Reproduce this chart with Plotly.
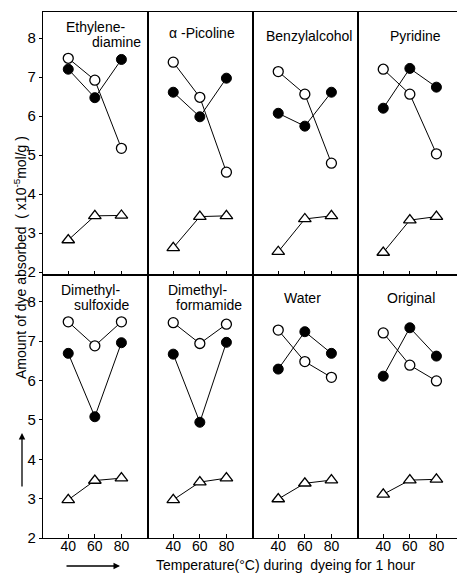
import plotly.graph_objects as go
from plotly.subplots import make_subplots

# ---------------- data ----------------
temps = [40, 60, 80]
titles = [
    ["Ethylene-", "diamine"],
    ["\u03b1 -Picoline"],
    ["Benzylalcohol"],
    ["Pyridine"],
    ["Dimethyl-", "sulfoxide"],
    ["Dimethyl-", "formamide"],
    ["Water"],
    ["Original"],
]
open_vals = [
    [7.48, 6.92, 5.17],
    [7.38, 6.48, 4.56],
    [7.14, 6.56, 4.79],
    [7.20, 6.56, 5.03],
    [7.49, 6.88, 7.49],
    [7.47, 6.94, 7.43],
    [7.28, 6.48, 6.08],
    [7.21, 6.39, 5.99],
]
filled_vals = [
    [7.20, 6.47, 7.45],
    [6.61, 5.98, 6.97],
    [6.07, 5.74, 6.61],
    [6.20, 7.22, 6.74],
    [6.69, 5.08, 6.96],
    [6.67, 4.94, 6.97],
    [6.29, 7.24, 6.69],
    [6.11, 7.34, 6.62],
]
tri_vals = [
    [2.82, 3.44, 3.45],
    [2.62, 3.42, 3.44],
    [2.52, 3.36, 3.44],
    [2.50, 3.33, 3.42],
    [2.97, 3.46, 3.52],
    [2.97, 3.42, 3.52],
    [2.99, 3.39, 3.47],
    [3.11, 3.47, 3.49],
]
y_ticks = [2, 3, 4, 5, 6, 7, 8]
x_ticks = [40, 60, 80]

# ---------------- layout helpers ----------------
# the page body has an 8px default margin, so the figure is made smaller
OFF = 8
PAGE_W, PAGE_H = 465, 576
PL, PT, PR, PB = 43, 12, 463, 538          # plot area in page pixels
W, H = PAGE_W - OFF, PAGE_H - OFF
ML, MT = PL - OFF, PT - OFF
MR, MB = W - (PR - OFF), H - (PB - OFF)
PW, PH = PR - PL, PB - PT


def px(x):
    return (x - PL) / PW


def py(y):
    return (PB - y) / PH


FONT = "Liberation Sans"

fig = make_subplots(rows=2, cols=4, horizontal_spacing=0, vertical_spacing=0)

for i in range(8):
    r, c = i // 4 + 1, i % 4 + 1
    fig.add_trace(go.Scatter(
        x=temps, y=tri_vals[i], mode="lines+markers",
        line=dict(color="black", width=1),
        marker=dict(symbol="triangle-up", size=11, color="white",
                    line=dict(color="black", width=1.3)),
        showlegend=False, hoverinfo="skip"), row=r, col=c)
    fig.add_trace(go.Scatter(
        x=temps, y=open_vals[i], mode="lines+markers",
        line=dict(color="black", width=1),
        marker=dict(symbol="circle", size=10, color="white",
                    line=dict(color="black", width=1.3)),
        showlegend=False, hoverinfo="skip"), row=r, col=c)
    fig.add_trace(go.Scatter(
        x=temps, y=filled_vals[i], mode="lines+markers",
        line=dict(color="black", width=1),
        marker=dict(symbol="circle", size=10, color="black",
                    line=dict(color="black", width=1)),
        showlegend=False, hoverinfo="skip"), row=r, col=c)

    fig.update_xaxes(
        range=[21, 100], tickvals=x_ticks, ticks="inside", ticklen=4,
        tickcolor="black", showticklabels=(r == 2), showline=True,
        mirror=True, linecolor="black", linewidth=1.2, showgrid=False,
        zeroline=False, ticklabelstandoff=-5,
        tickfont=dict(family=FONT, size=14, color="black"),
        row=r, col=c)
    yr = [1.923, 8.667] if r == 1 else [2.0, 8.68]
    fig.update_yaxes(
        range=yr, tickvals=y_ticks, ticks=("outside" if c == 1 else ""),
        ticklen=3, tickcolor="black", showticklabels=(c == 1),
        showline=True, mirror=True, linecolor="black", linewidth=1.2,
        showgrid=False, zeroline=False,
        tickfont=dict(family=FONT, size=15, color="black"),
        row=r, col=c)

# panel titles (page-pixel positions of each text line centre)
title_pos = [
    [(95, 27), (116, 42)],
    [(202, 33)],
    [(309, 36)],
    [(415, 36)],
    [(90, 290), (101, 305)],
    [(197, 290), (209, 305)],
    [(302, 298)],
    [(411, 298)],
]
annotations = []
for lines, poss in zip(titles, title_pos):
    for t, (x, y) in zip(lines, poss):
        annotations.append(dict(
            text=t, x=px(x), y=py(y), xref="paper", yref="paper",
            xanchor="center", yanchor="middle", showarrow=False,
            font=dict(family=FONT, size=14, color="black")))

annotations.append(dict(
    text="Amount of dye absorbed  ( x10<sup>-5</sup>mol/g )",
    x=px(20), y=py(258), xref="paper", yref="paper", textangle=-90,
    xanchor="center", yanchor="middle", showarrow=False,
    font=dict(family=FONT, size=14, color="black")))
annotations.append(dict(
    text="Temperature(\u00b0C) during  dyeing for 1 hour",
    x=px(286), y=py(565), xref="paper", yref="paper",
    xanchor="center", yanchor="middle", showarrow=False,
    font=dict(family=FONT, size=14, color="black")))
# arrows
annotations.append(dict(
    x=px(22), y=py(433), xref="paper", yref="paper", text="",
    showarrow=True, ax=0, ay=55, arrowhead=2, arrowsize=1,
    arrowwidth=1.3, arrowcolor="black"))
annotations.append(dict(
    x=px(120), y=py(566), xref="paper", yref="paper", text="",
    showarrow=True, ax=-55, ay=0, arrowhead=2, arrowsize=1,
    arrowwidth=1.3, arrowcolor="black"))

fig.update_layout(
    width=W, height=H,
    margin=dict(l=ML, r=MR, t=MT, b=MB, autoexpand=False),
    paper_bgcolor="white", plot_bgcolor="white",
    annotations=annotations,
    font=dict(family=FONT, color="black"),
)

fig.write_html("out.html")
